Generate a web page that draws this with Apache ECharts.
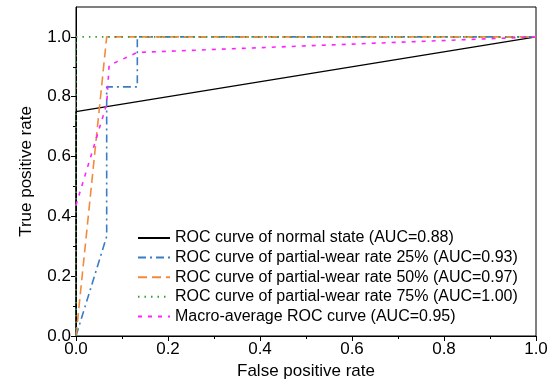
<!DOCTYPE html>
<html><head><meta charset="utf-8">
<script src="https://cdn.jsdelivr.net/npm/echarts@6/dist/echarts.min.js"></script>
<style>html,body{margin:0;padding:0;background:#fff}#c{width:555px;height:385px}</style>
</head><body><div id="c"></div>
<script>
const seriesNames = [
  'ROC curve of normal state (AUC=0.88)',
  'ROC curve of partial-wear rate 25% (AUC=0.93)',
  'ROC curve of partial-wear rate 50% (AUC=0.97)',
  'ROC curve of partial-wear rate 75% (AUC=1.00)',
  'Macro-average ROC curve (AUC=0.95)'
];
const normalFpr = [0, 0, 1];
const normalTpr = [0, 0.75, 1];
const wear25Fpr = [0, 0.0667, 0.0667, 0.1333, 0.1333, 1];
const wear25Tpr = [0, 0.333, 0.833, 0.833, 1, 1];
const wear50Fpr = [0, 0.0667, 1];
const wear50Tpr = [0, 1, 1];
const wear75Fpr = [0, 0, 1];
const wear75Tpr = [0, 1, 1];
const macroFpr = [0, 0.0667, 0.072, 0.1333, 1];
const macroTpr = [0.4375, 0.775, 0.905, 0.948, 1];
const yMajorTicks = [0, 0.2, 0.4, 0.6, 0.8, 1.0];
const yMinorTicks = [0.1, 0.3, 0.5, 0.7, 0.9];

const zip = (a, b) => a.map((v, i) => [v, b[i]]);
const font = 'Liberation Sans, Arial, sans-serif';
const chart = echarts.init(document.getElementById('c'));
const mk = (name, fpr, tpr, color, type, width) => ({
  name, type: 'line', data: zip(fpr, tpr), showSymbol: false, symbol: 'none',
  lineStyle: { color, type, width }, itemStyle: { color }, animation: false, z: 3
});
chart.setOption({
  animation: false,
  grid: { left: 76, right: 19, top: 7, bottom: 46, show: true, borderColor: '#000', borderWidth: 1 },
  xAxis: [{
    type: 'value', min: 0, max: 1, interval: 0.2,
    name: 'False positive rate', nameLocation: 'middle', nameGap: 27,
    nameTextStyle: { color: '#000', fontSize: 17, fontFamily: font },
    axisLine: { show: true, onZero: false, lineStyle: { color: '#000', width: 1 } },
    axisTick: { show: true, length: 5, lineStyle: { color: '#000', width: 1 } },
    minorTick: { show: true, splitNumber: 2, length: 3, lineStyle: { color: '#000', width: 1 } },
    axisLabel: { color: '#000', fontSize: 17, fontFamily: font, margin: 5, formatter: v => v.toFixed(1) },
    splitLine: { show: false }, minorSplitLine: { show: false }
  }],
  yAxis: [{
    type: 'value', min: 0, max: 1.1,
    name: 'True positive rate', nameLocation: 'middle', nameGap: 41,
    nameTextStyle: { color: '#000', fontSize: 17, fontFamily: font },
    axisLine: { show: true, onZero: false, lineStyle: { color: '#000', width: 1 } },
    axisTick: { show: true, customValues: yMajorTicks, length: 5, lineStyle: { color: '#000', width: 1 } },
    axisLabel: { customValues: yMajorTicks, color: '#000', fontSize: 17, fontFamily: font, margin: 5, formatter: v => v.toFixed(1) },
    splitLine: { show: false }
  }, {
    type: 'value', min: 0, max: 1.1, position: 'left',
    axisLine: { show: false, onZero: false },
    axisTick: { show: true, customValues: yMinorTicks, length: 3, lineStyle: { color: '#000', width: 1 } },
    axisLabel: { show: false }, splitLine: { show: false }
  }],
  legend: {
    orient: 'vertical', left: 132, top: 225, itemWidth: 32, itemHeight: 16, itemGap: 3.6,
    itemStyle: { opacity: 0 },
    textStyle: { color: '#000', fontSize: 16, fontFamily: font, lineHeight: 16 }, data: seriesNames
  },
  series: [
    mk(seriesNames[0], normalFpr, normalTpr, '#000000', 'solid', 1.3),
    mk(seriesNames[1], wear25Fpr, wear25Tpr, '#3b7dc4', [8, 4, 2, 4], 1.6),
    mk(seriesNames[2], wear50Fpr, wear50Tpr, '#f28a3c', [9, 5], 1.6),
    mk(seriesNames[3], wear75Fpr, wear75Tpr, '#3a9a3a', [1.5, 5], 1.6),
    mk(seriesNames[4], macroFpr, macroTpr, '#ff22ff', [4, 6], 1.6)
  ]
});
</script></body></html>
